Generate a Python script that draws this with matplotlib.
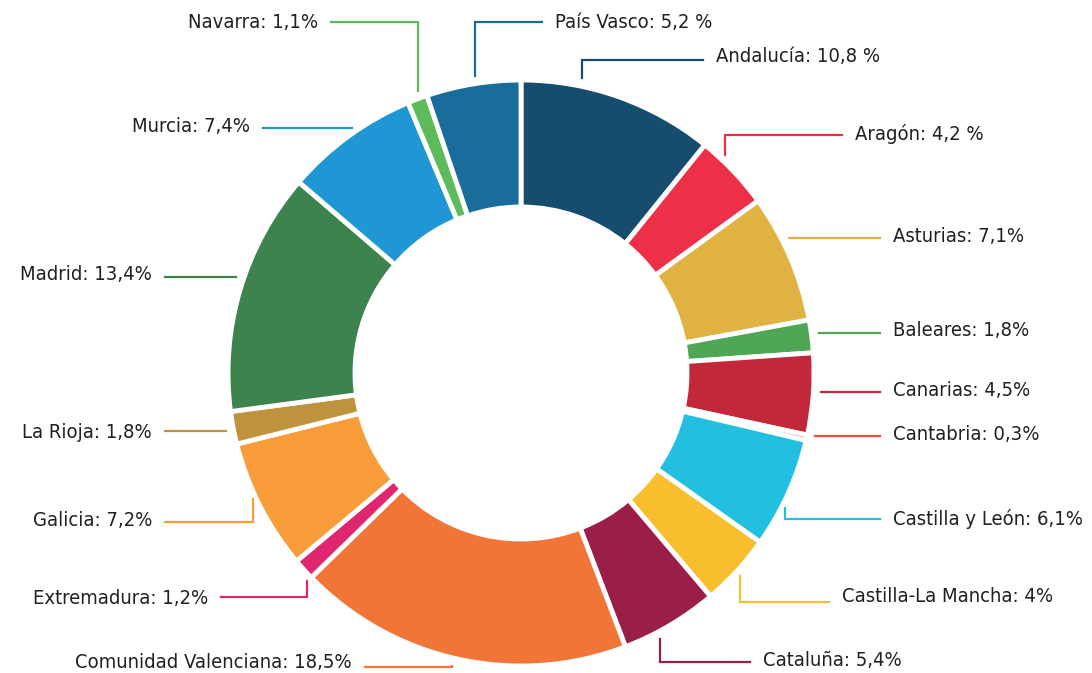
import numpy as np
import matplotlib
matplotlib.use('Agg')
import matplotlib.pyplot as plt
from matplotlib import font_manager

regions = ['Andalucía', 'Aragón', 'Asturias', 'Baleares', 'Canarias', 'Cantabria',
           'Castilla y León', 'Castilla-La Mancha', 'Cataluña', 'Comunidad Valenciana',
           'Extremadura', 'Galicia', 'La Rioja', 'Madrid', 'Murcia', 'Navarra', 'País Vasco']
shares = [10.8, 4.2, 7.1, 1.8, 4.5, 0.3, 6.1, 4.0, 5.4, 18.5,
          1.2, 7.2, 1.8, 13.4, 7.4, 1.1, 5.2]
labels = ['Andalucía: 10,8 %', 'Aragón: 4,2 %', 'Asturias: 7,1%', 'Baleares: 1,8%',
          'Canarias: 4,5%', 'Cantabria: 0,3%', 'Castilla y León: 6,1%',
          'Castilla-La Mancha: 4%', 'Cataluña: 5,4%', 'Comunidad Valenciana: 18,5%',
          'Extremadura: 1,2%', 'Galicia: 7,2%', 'La Rioja: 1,8%', 'Madrid: 13,4%',
          'Murcia: 7,4%', 'Navarra: 1,1%', 'País Vasco: 5,2 %']
colors = ['#164d6e', '#ee2f48', '#dfb241', '#4fa655', '#c3283a', '#ef4e3a',
          '#23bfe0', '#f8be2e', '#9b1e4a', '#f27538', '#e0266f', '#f89d39',
          '#bf933d', '#3c834d', '#1f97d5', '#5ebb5c', '#1a6d9b']

# label layout in pixels (from top-left): text x, text y, leader y, elbow x (None = straight)
layout = [(716, 57, 60, 582), (855, 134, 135, 725), (893, 237, 238, None),
          (893, 331, 333, None), (893, 390, 392, None), (893, 435, 436, None),
          (893, 519, 519, 785), (842, 596, 602, 740), (763, 660, 662, 660),
          (352, 662, 667, 452), (208, 599, 597, 307), (152, 520, 522, 253),
          (152, 432, 431, None), (152, 275, 277, None), (250, 127, 128, None),
          (318, 22, 22, 418), (555, 22, 22, 475)]

W, H = 1092, 673
cx, cy, R, ring = 521, 373, 293, 127
gap = 8

# a narrow face if there is one, else Roboto a bit smaller
names = {f.name for f in font_manager.fontManager.ttflist}
narrow = [f for f in font_manager.fontManager.ttflist
          if f.name == 'DejaVu Sans' and f.stretch == 'condensed' and f.style == 'normal'
          and f.weight in (400, 'normal')]
if 'Liberation Sans Narrow' in names:
    font = dict(family=['Liberation Sans Narrow', 'DejaVu Sans'], fontsize=15)
elif narrow:
    font = dict(family=['DejaVu Sans'], fontstretch='condensed', fontsize=14.5)
else:
    font = dict(family=['Roboto', 'DejaVu Sans'], fontsize=14)

fig = plt.figure(figsize=(W / 100, H / 100), dpi=100)
ax = fig.add_axes([0, 0, 1, 1])

ax.pie(shares, colors=colors, startangle=90, counterclock=False,
       center=(cx, H - cy), radius=R,
       wedgeprops=dict(width=ring, edgecolor='white', linewidth=3.5))
ax.set_xlim(0, W)
ax.set_ylim(0, H)
ax.axis('off')

for lab, col, (tx, ty, ly, ex) in zip(labels, colors, layout):
    right = tx > cx
    end_x = tx - 13 if right else tx + 13
    if ex is None:
        half = np.sqrt(R ** 2 - (ly - cy) ** 2)
        start_x = cx + half + gap if right else cx - half - gap
        xs, ys = [start_x, end_x], [ly, ly]
    else:
        half = np.sqrt(R ** 2 - (ex - cx) ** 2)
        y_ring = cy - half - gap if ly < cy else cy + half + gap
        xs, ys = [ex, ex, end_x], [y_ring, ly, ly]
    ax.plot(xs, [H - y for y in ys], color=col, lw=1.6, solid_joinstyle='miter')
    ax.text(tx, H - ty, lab, ha='left' if right else 'right', va='center',
            color='#231f20', **font)

fig.savefig('out.png', dpi=100)
